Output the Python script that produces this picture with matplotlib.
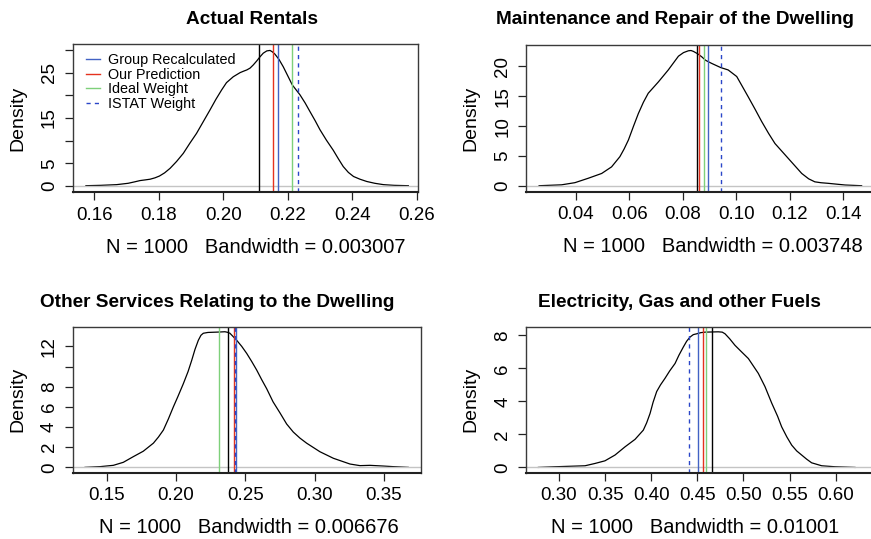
import matplotlib
matplotlib.use("Agg")
import matplotlib.pyplot as plt

plt.rcParams["font.family"] = ["Liberation Sans", "DejaVu Sans"]

titles = ["Actual Rentals", "Maintenance and Repair of the Dwelling",
          "Other Services Relating to the Dwelling", "Electricity, Gas and other Fuels"]
bandwidths = ["0.003007", "0.003748", "0.006676", "0.01001"]
n_obs = 1000

# density curves
rent_x = [0.1574, 0.1620, 0.1669, 0.1687, 0.1705, 0.1724, 0.1742, 0.1758, 0.1773, 0.1788,
          0.1802, 0.1818, 0.1835, 0.1855, 0.1876, 0.1896, 0.1917, 0.1938, 0.1959, 0.1977,
          0.1995, 0.2010, 0.2031, 0.2052, 0.2062, 0.2073, 0.2083, 0.2093, 0.2104, 0.2114,
          0.2124, 0.2135, 0.2145, 0.2152, 0.2160, 0.2173, 0.2186, 0.2200, 0.2214, 0.2226,
          0.2238, 0.2254, 0.2269, 0.2285, 0.2300, 0.2320, 0.2341, 0.2357, 0.2372, 0.2388,
          0.2404, 0.2424, 0.2445, 0.2470, 0.2497, 0.2530, 0.2574]
rent_y = [0.07, 0.15, 0.3, 0.45, 0.6, 0.9, 1.2, 1.35, 1.5, 1.8,
          2.2, 2.9, 3.9, 5.4, 7.2, 9.4, 11.6, 14.2, 16.8, 19.1,
          21.2, 22.8, 24.1, 25.0, 25.3, 25.6, 26.0, 26.7, 27.6, 28.5,
          29.3, 29.8, 29.9, 29.6, 29.1, 27.9, 26.3, 24.3, 22.3, 21.2,
          20.1, 18.3, 16.4, 14.4, 12.4, 10.1, 7.9, 6.0, 4.3, 3.0,
          2.1, 1.5, 1.0, 0.6, 0.3, 0.15, 0.07]

maint_x = [0.0262, 0.0346, 0.0396, 0.0446, 0.0496, 0.0533, 0.0564, 0.0580, 0.0596, 0.0615,
           0.0633, 0.0652, 0.0670, 0.0708, 0.0745, 0.0783, 0.0802, 0.0820, 0.0830, 0.0839,
           0.0855, 0.0870, 0.0885, 0.0907, 0.0941, 0.0969, 0.1001, 0.1020, 0.1044, 0.1070,
           0.1094, 0.1120, 0.1144, 0.1170, 0.1194, 0.1220, 0.1244, 0.1270, 0.1293, 0.1316,
           0.1343, 0.1406, 0.1468]
maint_y = [0.05, 0.2, 0.56, 1.3, 2.1, 3.2, 4.9, 6.2, 7.7, 10.0,
           12.1, 14.0, 15.5, 17.4, 19.4, 21.7, 22.3, 22.6, 22.65, 22.5,
           22.1, 21.6, 21.0, 20.5, 19.8, 19.4, 18.3, 16.8, 14.9, 12.8,
           10.8, 8.8, 7.1, 5.8, 4.6, 3.3, 2.1, 1.2, 0.7, 0.55,
           0.45, 0.17, 0.05]

other_x = [0.1344, 0.1452, 0.1548, 0.1620, 0.1692, 0.1764, 0.1837, 0.1873, 0.1909, 0.1945,
           0.1981, 0.2013, 0.2053, 0.2087, 0.2113, 0.2137, 0.2161, 0.2180, 0.2197, 0.2230,
           0.2269, 0.2310, 0.2353, 0.2370, 0.2389, 0.2410, 0.2438, 0.2474, 0.2510, 0.2546,
           0.2582, 0.2618, 0.2654, 0.2700, 0.2750, 0.2798, 0.2846, 0.2894, 0.2942, 0.3038,
           0.3135, 0.3255, 0.3327, 0.3399, 0.3495, 0.3567, 0.3675]
other_y = [0.0, 0.07, 0.2, 0.5, 1.06, 1.6, 2.4, 3.0, 3.7, 4.8,
           6.0, 7.0, 8.3, 9.5, 10.6, 11.7, 12.6, 13.1, 13.3, 13.38,
           13.4, 13.42, 13.45, 13.4, 13.3, 13.0, 12.6, 12.0, 11.3, 10.5,
           9.65, 8.7, 7.8, 6.5, 5.4, 4.3, 3.5, 2.9, 2.4, 1.55,
           0.9, 0.33, 0.17, 0.2, 0.13, 0.07, 0.0]

elec_x = [0.2776, 0.2957, 0.3173, 0.3282, 0.3390, 0.3498, 0.3607, 0.3716, 0.3824, 0.3914,
          0.3950, 0.3987, 0.4020, 0.4059, 0.4100, 0.4149, 0.4200, 0.4258, 0.4300, 0.4348,
          0.4384, 0.4420, 0.4456, 0.4493, 0.4538, 0.4583, 0.4655, 0.4727, 0.4770, 0.4800,
          0.4850, 0.4908, 0.4980, 0.5053, 0.5107, 0.5161, 0.5233, 0.5306, 0.5370, 0.5414,
          0.5470, 0.5523, 0.5577, 0.5631, 0.5685, 0.5739, 0.5848, 0.5992, 0.6209]
elec_y = [0.0, 0.04, 0.08, 0.1, 0.24, 0.4, 0.75, 1.25, 1.7, 2.26,
          2.7, 3.27, 3.95, 4.6, 5.0, 5.4, 5.85, 6.3, 6.8, 7.3,
          7.65, 7.9, 8.05, 8.1, 8.17, 8.2, 8.21, 8.22, 8.2, 8.1,
          7.8, 7.4, 7.0, 6.6, 6.15, 5.7, 4.9, 3.9, 3.1, 2.46,
          1.85, 1.35, 1.0, 0.75, 0.5, 0.28, 0.1, 0.04, 0.0]

# reference weights (vertical lines)
actual = [0.2110, 0.0854, 0.2373, 0.4655]
group_recalc = [0.2171, 0.0892, 0.2430, 0.4503]
our_pred = [0.2154, 0.0860, 0.2421, 0.4558]
ideal = [0.2214, 0.0879, 0.2308, 0.4594]
istat = [0.2231, 0.0941, 0.2425, 0.4406]

curves_x = [rent_x, maint_x, other_x, elec_x]
curves_y = [rent_y, maint_y, other_y, elec_y]

xticks = [[0.16, 0.18, 0.20, 0.22, 0.24, 0.26],
          [0.04, 0.06, 0.08, 0.10, 0.12, 0.14],
          [0.15, 0.20, 0.25, 0.30, 0.35],
          [0.30, 0.35, 0.40, 0.45, 0.50, 0.55, 0.60]]
yticks = [[0, 5, 10, 15, 20, 25, 30],
          [0, 5, 10, 15, 20],
          [0, 2, 4, 6, 8, 10, 12],
          [0, 2, 4, 6, 8]]
ytick_labels = [["0", "5", "", "15", "", "25", ""],
                ["0", "5", "10", "15", "20"],
                ["0", "2", "4", "6", "8", "", "12"],
                ["0", "2", "4", "6", "8"]]

xlims = [(0.1533, 0.2603), (0.0213, 0.1518), (0.1255, 0.3767), (0.2642, 0.6426)]
ylims = [(-1.32, 31.32), (-0.95, 23.57), (-0.53, 13.95), (-0.32, 8.53)]

W, H = 871, 539
# axes boxes in pixels: left, top, right, bottom
boxes = [(72.7, 44, 417.7, 192), (526, 45, 875, 191.7),
         (72.7, 326.7, 421, 472.7), (526, 326.7, 875, 472.7)]
title_pos = [(251.7, 24.3), (675, 24.3), (217.5, 306.7), (679, 306.7)]
xlab_center = [255.5, 713, 249, 695]
ylab_right = [26, 479, 26, 479]

col_blue = "#4262c4"
col_red = "#e5321e"
col_green = "#7ed07a"
col_dash = "#2a46c8"

fig = plt.figure(figsize=(W / 100, H / 100), dpi=100)

for i in range(4):
    l, t, r, b = boxes[i]
    ax = fig.add_axes([l / W, 1 - b / H, (r - l) / W, (b - t) / H])
    ax.plot(curves_x[i], curves_y[i], color="black", lw=0.9)
    ax.axhline(0, color="#c4c4c4", lw=1.0)
    ax.axvline(actual[i], color="black", lw=1.0)
    ax.axvline(our_pred[i], color=col_red, lw=1.0, label="Our Prediction")
    ax.axvline(group_recalc[i], color=col_blue, lw=1.0, label="Group Recalculated")
    ax.axvline(ideal[i], color=col_green, lw=1.0, label="Ideal Weight")
    ax.axvline(istat[i], color=col_dash, lw=1.0, ls=(0, (3, 3)), label="ISTAT Weight")

    ax.set_xlim(*xlims[i])
    ax.set_ylim(*ylims[i])
    ax.set_xticks(xticks[i])
    ax.set_xticklabels([f"{v:.2f}" for v in xticks[i]])
    ax.set_yticks(yticks[i])
    ax.set_yticklabels(ytick_labels[i], rotation=90, va="center")
    ax.tick_params(direction="out", length=5.5, width=0.9, labelsize=13.5, pad=5,
                   color="#222222")
    for s in ax.spines.values():
        s.set_color("#3a3a3a")
        s.set_linewidth(1.0)
    ax.spines["bottom"].set_linewidth(1.5)
    ax.spines["bottom"].set_color("#222222")

    ax.set_xlabel(f"N = {n_obs}   Bandwidth = {bandwidths[i]}", fontsize=14.5)
    ax.xaxis.set_label_coords((xlab_center[i] - l) / (r - l), -(238 - 192) / 148)
    ax.set_ylabel("Density", fontsize=14)
    ax.yaxis.set_label_coords((ylab_right[i] - l) / (r - l), 0.5)

    fig.text(title_pos[i][0] / W, 1 - title_pos[i][1] / H, titles[i],
             fontsize=13.7, fontweight="bold", ha="center", va="baseline")

    if i == 0:
        hs, ls = ax.get_legend_handles_labels()
        order = [1, 0, 2, 3]
        ax.legend([hs[k] for k in order], [ls[k] for k in order],
                  loc="upper left", bbox_to_anchor=(86 / W, 1 - 53 / H),
                  bbox_transform=fig.transFigure, frameon=False, fontsize=10.4,
                  handlelength=1.0, handletextpad=0.5, labelspacing=0.05,
                  borderpad=0, borderaxespad=0)

fig.savefig("out.png", dpi=100)
